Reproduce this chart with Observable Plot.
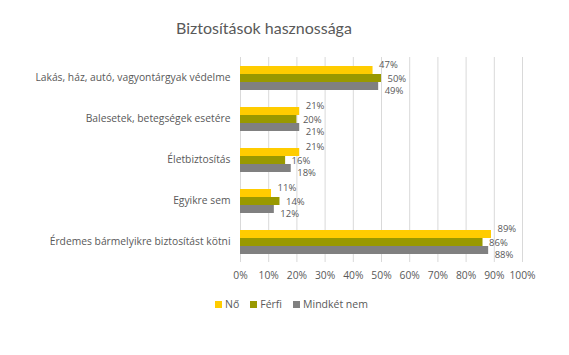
<!DOCTYPE html>
<html><head><meta charset="utf-8">
<script src="https://cdn.jsdelivr.net/npm/d3@7"></script>
<script src="https://cdn.jsdelivr.net/npm/@observablehq/plot@0.6"></script>
<style>
body{margin:0;background:#fff;}
#wrap{position:relative;width:569px;height:355px;overflow:hidden;font-family:"Open Sans",sans-serif;color:#595959;background:#fff;}
#title{position:absolute;top:18px;left:0;width:528px;text-align:center;font-family:Lato,sans-serif;font-size:16px;color:#595959;z-index:2;}
#chart{position:absolute;top:0;left:0;z-index:1;}
#legend{position:absolute;top:297px;left:215px;display:flex;font-size:10.5px;color:#595959;white-space:nowrap;z-index:2;}
#legend .item{display:flex;align-items:center;margin-right:11px;}
#legend .sw{width:7px;height:7px;margin-right:3px;}
</style></head>
<body><div id="wrap"><div id="title">Biztosítások hasznossága</div><div id="chart"></div><div id="legend"></div></div>
<script>
const categories = ["Lakás, ház, autó, vagyontárgyak védelme","Balesetek, betegségek esetére","Életbiztosítás","Egyikre sem","Érdemes bármelyikre biztosítást kötni"];
const series = ["Nő","Férfi","Mindkét nem"];
const noValues = [47,21,21,11,89];
const ferfiValues = [50,20,16,14,86];
const mindketValues = [49,21,18,12,88];
const xTicks = [0,0.1,0.2,0.3,0.4,0.5,0.6,0.7,0.8,0.9,1];
const colors = ["#FFCC00","#999900","#808080"];

const valuesBySeries = [noValues, ferfiValues, mindketValues];
const rows = [];
series.forEach((s,i)=>categories.forEach((c,j)=>rows.push({category:c, series:s, value:valuesBySeries[i][j]/100})));

const labelDy = [-6,0,4];
const fmt = d3.format(".0%");

const chart = Plot.plot({
  width:569, height:300,
  marginTop:56, marginBottom:37, marginLeft:240, marginRight:47,
  style:{fontFamily:'"Open Sans",sans-serif', fontSize:"10.3px", color:"#595959", background:"transparent"},
  x:{domain:[0,1], ticks:xTicks, tickFormat:fmt, tickSize:0, tickPadding:9, label:null},
  y:{domain:series, paddingInner:0, paddingOuter:0.885, axis:null},
  fy:{domain:categories, padding:0, tickSize:0, tickPadding:10, label:null},
  color:{domain:series, range:colors},
  marks:[
    Plot.ruleX(xTicks, {stroke:"#d9d9d9", strokeWidth:1}),
    Plot.barX(rows, {x:"value", y:"series", fy:"category", fill:"series"}),
    ...series.map((s,i)=>Plot.text(rows.filter(r=>r.series===s), {x:"value", y:"series", fy:"category", text:d=>fmt(d.value), dx:6, dy:labelDy[i], textAnchor:"start", fill:"#595959", fontSize:9.5}))
  ]
});
document.getElementById("chart").appendChild(chart);

const legend = document.getElementById("legend");
series.forEach((s,i)=>{
  const it=document.createElement("div"); it.className="item";
  const sw=document.createElement("span"); sw.className="sw"; sw.style.background=colors[i];
  const tx=document.createElement("span"); tx.textContent=s;
  it.appendChild(sw); it.appendChild(tx); legend.appendChild(it);
});
</script></body></html>
